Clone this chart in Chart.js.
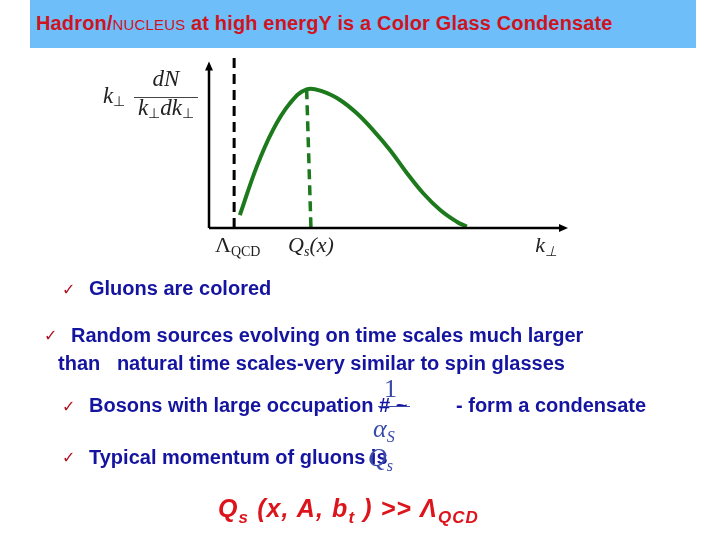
<!DOCTYPE html>
<html>
<head>
<meta charset="utf-8">
<script src="https://cdn.jsdelivr.net/npm/chart.js@4.4.0/dist/chart.umd.min.js"></script>
<style>
  body { margin: 0; background: #fff; }
  #wrap { position: relative; width: 720px; height: 540px; overflow: hidden; }
  #grafica { position: absolute; left: 0; top: 0; }
  .banda { position: absolute; left: 30px; top: 0; width: 666px; height: 48px; background: #6ebefa; }
  .titulo { position: absolute; left: 36px; top: 13px; font: bold 20px "Liberation Sans", Arial, sans-serif; color: #d0141e; white-space: nowrap; line-height: 20px; letter-spacing: 0.15px; }
  .titulo .chico { font-weight: normal; font-size: 15px; }
  .txt { position: absolute; font: bold 20px "Liberation Sans", Arial, sans-serif; color: #1414a0; white-space: nowrap; line-height: 20px; }
  .check { position: absolute; font: bold 16px "DejaVu Sans", sans-serif; color: #b0101c; line-height: 16px; }
  .mate { position: absolute; font: 26px "Liberation Serif", serif; color: #3a4aa8; line-height: 26px; white-space: nowrap; }
  .mate i { font-style: italic; }
  .mate sub { font-size: 16px; vertical-align: -5px; }
  .final { position: absolute; left: 218px; top: 496px; font: italic bold 25px "Liberation Sans", Arial, sans-serif; color: #dc141c; white-space: nowrap; line-height: 25px; letter-spacing: 1.1px; }
  .final sub { font-size: 17px; vertical-align: -6px; }
</style>
</head>
<body>
<div id="wrap">
  <div class="banda"></div>
  <div class="titulo">Hadron/<span class="chico">NUCLEUS</span> at high energY is a Color Glass Condensate</div>
  <canvas id="grafica" width="720" height="540"></canvas>

  <div class="check" style="left:62px;top:282px">✓</div>
  <div class="txt" style="left:89px;top:278px">Gluons are colored</div>

  <div class="check" style="left:44px;top:328px">✓</div>
  <div class="txt" style="left:71px;top:325px">Random sources evolving on time scales much larger</div>
  <div class="txt" style="left:58px;top:353px">than &nbsp; natural time scales-very similar to spin glasses</div>

  <div class="check" style="left:62px;top:399px">✓</div>
  <div class="txt" style="left:89px;top:395px">Bosons with large occupation # ~</div>
  <div class="txt" style="left:456px;top:395px">- form a condensate</div>
  <div class="mate" style="left:384px;top:376px">1</div>
  <div style="position:absolute;left:378px;top:406px;width:32px;height:1px;background:#3a4aa8"></div>
  <div class="mate" style="left:373px;top:416px"><i>α</i><sub><i>S</i></sub></div>

  <div class="check" style="left:62px;top:450px">✓</div>
  <div class="txt" style="left:89px;top:447px">Typical momentum of gluons is</div>
  <div class="mate" style="left:368px;top:445px"><i>Q</i><sub><i>s</i></sub></div>

  <div class="final">Q<sub>s</sub> (x, A, b<sub>t</sub> ) &gt;&gt; Λ<sub>QCD</sub></div>
</div>

<script>
// curva de gluones: k (eje x) y valor (eje y)
const curvaK = [0.86, 1.33, 1.78, 2.26, 2.72, 3.18, 3.65, 4.11, 4.57, 5.04, 5.51, 5.96, 6.44, 6.90, 7.18];
const curvaV = [0.076, 0.361, 0.576, 0.735, 0.816, 0.802, 0.753, 0.676, 0.576, 0.459, 0.324, 0.206, 0.106, 0.037, 0.008];

// linea punteada negra (Lambda QCD) y verde (Qs)
const lambdaK = [0.7, 0.7];
const lambdaV = [0, 1.0];
const qsK = [2.72, 2.84];
const qsV = [0.816, 0];

// etiquetas del eje x
const tickK = [0.8, 2.84, 9.39];
const tickMain = ["Λ", "Q", "k"];
const tickSub = ["QCD", "s", "⊥"];
const tickTail = ["", "(x)", ""];
const tickItalic = [false, true, true];

const verde = "#1c7a1c";
const serif = "'Liberation Serif', serif";

function puntos(xs, ys) {
  return xs.map((x, i) => ({ x: x, y: ys[i] }));
}

//funcion que dibuja un texto compuesto por partes [texto, fuente, desplazamiento y]
function textoCompuesto(ctx, partes, centroX, base) {
  let total = 0;
  partes.forEach((p) => {
    ctx.font = p[1];
    total += ctx.measureText(p[0]).width;
  });
  let x = centroX - total / 2;
  partes.forEach((p) => {
    ctx.font = p[1];
    ctx.fillText(p[0], x, base + p[2]);
    x += ctx.measureText(p[0]).width;
  });
}

//plugin que dibuja los ejes con flechas y las etiquetas
const ejesPlugin = {
  id: "ejes",
  afterDatasetsDraw(chart) {
    const ctx = chart.ctx;
    const a = chart.chartArea;
    const sx = chart.scales.x;
    const sy = chart.scales.y;
    const x0 = sx.getPixelForValue(0);
    const y0 = sy.getPixelForValue(0);
    const xFin = sx.getPixelForValue(10);
    const yFin = sy.getPixelForValue(0.98);
    ctx.save();
    ctx.strokeStyle = "#000";
    ctx.fillStyle = "#000";
    ctx.lineWidth = 2.5;
    ctx.beginPath();
    ctx.moveTo(x0, y0);
    ctx.lineTo(xFin - 6, y0);
    ctx.moveTo(x0, y0);
    ctx.lineTo(x0, yFin + 6);
    ctx.stroke();
    // flechas
    ctx.beginPath();
    ctx.moveTo(xFin, y0);
    ctx.lineTo(xFin - 9, y0 - 4);
    ctx.lineTo(xFin - 9, y0 + 4);
    ctx.closePath();
    ctx.fill();
    ctx.beginPath();
    ctx.moveTo(x0, yFin);
    ctx.lineTo(x0 - 4, yFin + 9);
    ctx.lineTo(x0 + 4, yFin + 9);
    ctx.closePath();
    ctx.fill();

    // etiquetas del eje x
    ctx.fillStyle = "#222";
    ctx.textBaseline = "alphabetic";
    tickK.forEach((k, i) => {
      const fMain = (tickItalic[i] ? "italic " : "") + "22px " + serif;
      const fSub = (tickItalic[i] && tickSub[i] !== "QCD" ? "italic " : "") + "14px " + serif;
      const partes = [[tickMain[i], fMain, 0], [tickSub[i], fSub, 4]];
      if (tickTail[i]) partes.push([tickTail[i], fMain, 0]);
      textoCompuesto(ctx, partes, sx.getPixelForValue(k), y0 + 24);
    });

    // etiqueta del eje y: k dN / k dk
    const cx = a.left - 43;
    const it = "italic 23px " + serif;
    const pe = "14px " + serif;
    textoCompuesto(ctx, [["k", it, 0], ["⊥", pe, 3]], a.left - 95, 103);
    textoCompuesto(ctx, [["dN", it, 0]], cx, 86);
    textoCompuesto(ctx, [["k", it, 0], ["⊥", pe, 3], ["dk", it, 0], ["⊥", pe, 3]], cx, 115);
    ctx.lineWidth = 1;
    ctx.strokeStyle = "#444";
    ctx.beginPath();
    ctx.moveTo(cx - 32, 97.5);
    ctx.lineTo(cx + 32, 97.5);
    ctx.stroke();
    ctx.restore();
  }
};

const config = {
  type: "line",
  data: {
    datasets: [
      {
        data: puntos(curvaK, curvaV),
        borderColor: verde,
        borderWidth: 4,
        pointRadius: 0,
        tension: 0.4,
        fill: false,
      },
      {
        data: puntos(lambdaK, lambdaV),
        borderColor: "#000",
        borderWidth: 3,
        borderDash: [10, 6],
        pointRadius: 0,
      },
      {
        data: puntos(qsK, qsV),
        borderColor: verde,
        borderWidth: 3.5,
        borderDash: [10, 6],
        pointRadius: 0,
      },
    ],
  },
  options: {
    responsive: false,
    animation: false,
    devicePixelRatio: 1,
    layout: { padding: { left: 209, top: 58, right: 152, bottom: 312 } },
    plugins: { legend: { display: false }, tooltip: { enabled: false } },
    scales: {
      x: { type: "linear", min: 0, max: 10, display: false },
      y: { type: "linear", min: 0, max: 1, display: false },
    },
  },
  plugins: [ejesPlugin],
};

new Chart(document.getElementById("grafica"), config);
</script>
</body>
</html>
